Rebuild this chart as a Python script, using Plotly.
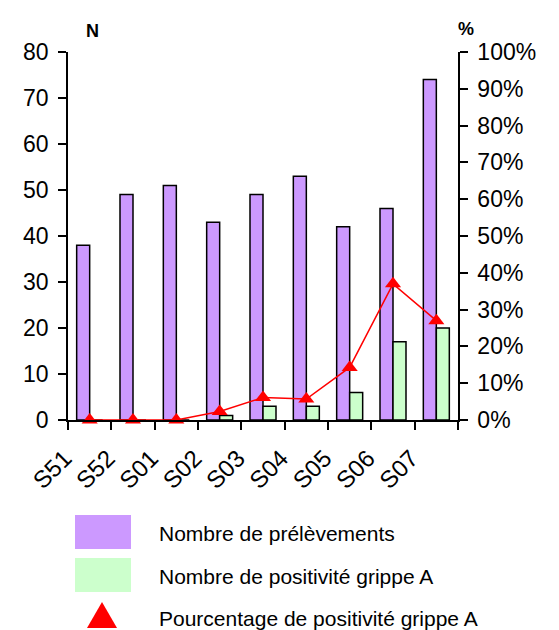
import plotly.graph_objects as go

# ---- data ----
weeks = ["S51", "S52", "S01", "S02", "S03", "S04", "S05", "S06", "S07"]
prelevements = [38, 49, 51, 43, 49, 53, 42, 46, 74]
positifs_A = [0, 0, 0, 1, 3, 3, 6, 17, 20]
pct_A = [0, 0, 0, 2.3, 6.1, 5.7, 14.3, 37.0, 27.0]
left_ticks = [0, 10, 20, 30, 40, 50, 60, 70, 80]
right_ticks = [0, 0.1, 0.2, 0.3, 0.4, 0.5, 0.6, 0.7, 0.8, 0.9, 1.0]
legend_labels = ["Nombre de prélèvements", "Nombre de positivité grippe A",
                 "Pourcentage de positivité grippe A"]

PURPLE = "#CC99FF"
GREEN = "#CCFFCC"
RED = "#FF0000"
FONT = "Liberation Sans, Arial, sans-serif"

W, H = 559, 630
L, R, T, B = 68, 458, 52, 420


def px(x):
    return (x - L) / (R - L)


def py(y):
    return (B - y) / (B - T)


fig = go.Figure()
fig.add_bar(x=weeks, y=prelevements, name=legend_labels[0],
            marker=dict(color=PURPLE, line=dict(color="black", width=1.5)))
fig.add_bar(x=weeks, y=positifs_A, name=legend_labels[1],
            marker=dict(color=GREEN, line=dict(color="black", width=1.5)))
fig.add_scatter(x=weeks, y=[p / 100 for p in pct_A], yaxis="y2", name=legend_labels[2],
                mode="lines+markers", cliponaxis=False,
                line=dict(color=RED, width=1.5),
                marker=dict(symbol="triangle-up", size=14, color=RED))

axis_common = dict(showgrid=False, zeroline=False, linecolor="black", linewidth=1.5,
                   tickcolor="black", tickwidth=1.5, ticklen=8)

fig.update_layout(
    width=W, height=H,
    margin=dict(l=L, r=W - R, t=T, b=H - B, pad=0, autoexpand=False),
    paper_bgcolor="white", plot_bgcolor="white",
    font=dict(family=FONT, color="black"),
    showlegend=False,
    barmode="group", bargap=0.4, bargroupgap=0,
    xaxis=dict(type="category", range=[-0.5, len(weeks) - 0.5],
               tickson="boundaries", ticks="outside", showline=True,
               tickangle=-45, tickfont=dict(size=24), ticklabelshift=-25,
               ticklabelstandoff=13, automargin=False, **axis_common),
    xaxis2=dict(overlaying="x", anchor="y", side="bottom", range=[0, len(weeks)], dtick=1,
                ticks="inside", showticklabels=False, showline=False, **axis_common),
    yaxis=dict(range=[0, 80], tickvals=left_ticks, ticks="outside", showline=True,
               tickfont=dict(size=23), ticklabelstandoff=5, automargin=False, **axis_common),
    yaxis2=dict(overlaying="y", side="right", anchor="x", range=[0, 1], tickvals=right_ticks,
                tickformat=".0%", ticks="outside", showline=True, automargin=False,
                tickfont=dict(size=23), ticklabelstandoff=5, **axis_common),
    yaxis3=dict(overlaying="y", side="left", anchor="x", range=[0, 80], tickvals=left_ticks,
                ticks="inside", showticklabels=False, showline=False, **axis_common),
    yaxis4=dict(overlaying="y", side="right", anchor="x", range=[0, 1], tickvals=right_ticks,
                ticks="inside", showticklabels=False, showline=False, **axis_common),
)

annotations = [
    dict(text="<b>N</b>", x=px(92), y=py(31), xref="paper", yref="paper",
         showarrow=False, font=dict(size=18), xanchor="center", yanchor="middle"),
    dict(text="<b>%</b>", x=px(466), y=py(29), xref="paper", yref="paper",
         showarrow=False, font=dict(size=18), xanchor="center", yanchor="middle"),
]
legend_y = [533, 576, 618]
for lab, yy in zip(legend_labels, legend_y):
    annotations.append(dict(text=lab, x=px(157), y=py(yy), xref="paper", yref="paper",
                            showarrow=False, font=dict(size=21),
                            xanchor="left", yanchor="middle"))
fig.update_layout(annotations=annotations)

shapes = [
    dict(type="rect", xref="paper", yref="paper", x0=px(75), x1=px(131),
         y0=py(549), y1=py(515), fillcolor=PURPLE, line=dict(width=0)),
    dict(type="rect", xref="paper", yref="paper", x0=px(75), x1=px(131),
         y0=py(592), y1=py(558), fillcolor=GREEN, line=dict(width=0)),
    dict(type="path", xref="paper", yref="paper",
         path=f"M {px(87)} {py(628)} L {px(117)} {py(628)} L {px(102)} {py(602)} Z",
         fillcolor=RED, line=dict(width=0)),
]
fig.update_layout(shapes=shapes)

fig.write_html("out.html", config={"displayModeBar": False},
               post_script="document.body.style.margin='0';document.body.style.overflow='hidden';")
